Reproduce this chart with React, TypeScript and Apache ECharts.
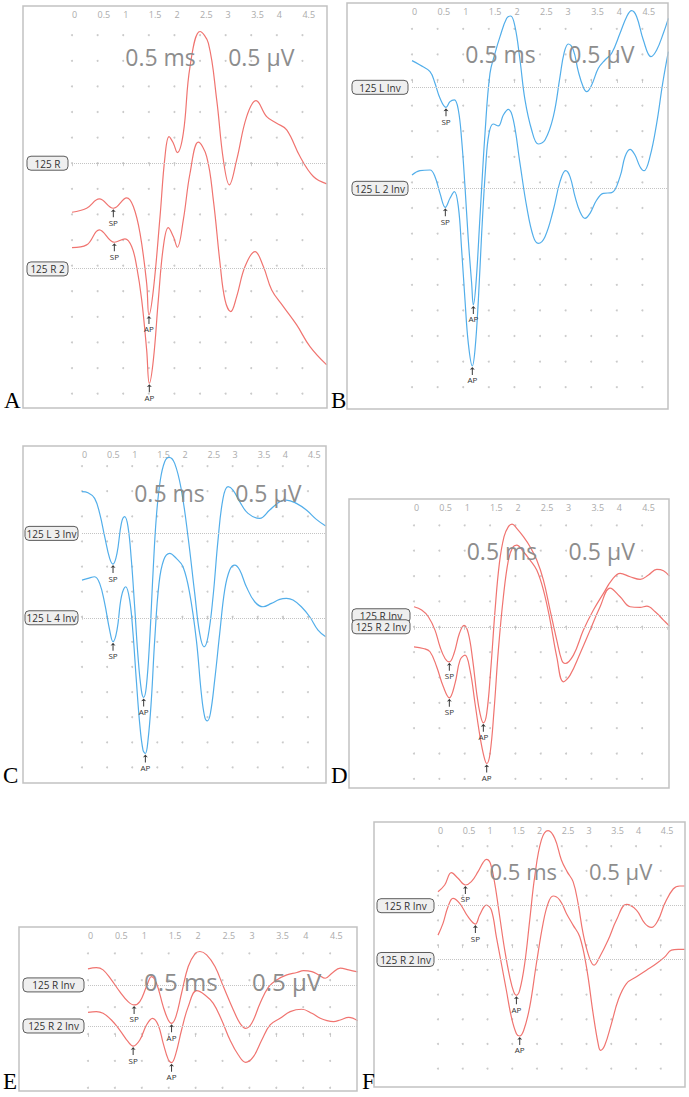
import { useEffect, useRef } from 'react';
import * as echarts from 'echarts';

type Pt = [number, number];
type Mark = [number, string];

// Time (ms) / amplitude (µV, relative to each trace's own baseline)

// A — 125 R, 125 R 2
const namesA = ['125 R', '125 R 2'];
const baselinesA = [0, -2.064];
const traceA1: Pt[] = [[0, -0.957], [0.286, -0.879], [0.534, -0.697], [0.807, -0.879], [1.068, -0.677], [1.198, -0.846], [1.328, -1.367], [1.458, -2.344], [1.503, -2.962], [1.589, -2.474], [1.719, -1.042], [1.816, 0.13], [1.895, 0.521], [1.979, 0.391], [2.057, 0.208], [2.174, 0.586], [2.305, 1.888], [2.5, 2.572], [2.663, 2.344], [2.826, 1.237], [2.956, 0.065], [3.073, -0.423], [3.216, 0.065], [3.411, 0.911], [3.594, 1.224], [3.802, 0.911], [3.997, 0.781], [4.193, 0.651], [4.453, 0.13], [4.714, -0.26], [4.974, -0.404]];
const traceA2: Pt[] = [[0, 0.417], [0.286, 0.469], [0.534, 0.762], [0.827, 0.521], [1.035, 0.586], [1.165, 0.436], [1.263, 0.046], [1.361, -0.605], [1.458, -1.582], [1.51, -2.233], [1.589, -1.777], [1.686, -0.605], [1.784, 0.436], [1.881, 0.807], [1.979, 0.631], [2.057, 0.423], [2.174, 0.957], [2.305, 1.868], [2.467, 2.474], [2.63, 2.194], [2.76, 1.348], [2.891, 0.111], [2.988, -0.605], [3.099, -0.833], [3.216, -0.54], [3.379, 0.046], [3.574, 0.339], [3.737, 0.046], [3.9, -0.41], [4.128, -0.736], [4.388, -1.094], [4.648, -1.517], [4.974, -1.875]];
const marksA1: Mark[] = [[3, 'SP'], [8, 'AP']];
const marksA2: Mark[] = [[3, 'SP'], [9, 'AP']];

// B — 125 L Inv, 125 L 2 Inv
const namesB = ['125 L Inv', '125 L 2 Inv'];
const baselinesB = [-0.143, -2.116];
const traceB1: Pt[] = [[0, 0.521], [0.156, 0.436], [0.352, 0.306], [0.449, 0.078], [0.547, -0.215], [0.664, -0.391], [0.742, -0.28], [0.827, -0.247], [0.905, -0.443], [0.97, -1.029], [1.035, -1.94], [1.1, -2.982], [1.165, -3.828], [1.198, -4.251], [1.25, -3.828], [1.328, -2.526], [1.426, -0.898], [1.523, 0.273], [1.621, 0.664], [1.719, 0.99], [1.849, 1.348], [1.927, 1.393], [2.012, 1.185], [2.109, 0.534], [2.207, -0.247], [2.337, -0.833], [2.467, -1.107], [2.598, -1.029], [2.76, -0.573], [2.891, 0.208], [2.969, 0.664], [3.053, 0.846], [3.151, 0.729], [3.249, 0.306], [3.346, 0], [3.411, -0.085], [3.509, 0.046], [3.639, 0.371], [3.77, 0.534], [3.9, 0.664], [4.063, 1.055], [4.193, 1.38], [4.29, 1.497], [4.388, 1.38], [4.518, 0.924], [4.668, 0.599], [4.779, 0.729], [4.909, 1.055], [5.007, 1.348]];
const traceB2: Pt[] = [[0, 0.26], [0.156, 0.345], [0.352, 0.358], [0.449, 0.228], [0.547, -0.098], [0.651, -0.371], [0.742, -0.195], [0.827, -0.065], [0.905, -0.358], [0.97, -1.204], [1.035, -2.181], [1.1, -3.027], [1.178, -3.47], [1.23, -3.158], [1.296, -2.181], [1.361, -0.879], [1.439, 0.423], [1.504, 1.074], [1.589, 1.257], [1.686, 1.219], [1.784, 1.432], [1.882, 1.543], [1.979, 1.335], [2.109, 0.488], [2.24, -0.358], [2.37, -0.944], [2.467, -1.074], [2.598, -0.944], [2.76, -0.423], [2.891, 0.13], [3.001, 0.345], [3.086, 0.228], [3.184, -0.163], [3.281, -0.456], [3.379, -0.586], [3.477, -0.488], [3.607, -0.228], [3.737, -0.098], [3.9, -0.085], [4.063, 0.228], [4.16, 0.618], [4.258, 0.762], [4.355, 0.651], [4.453, 0.423], [4.531, 0.345], [4.648, 0.618], [4.779, 1.27], [4.896, 2.051], [5.007, 2.669]];
const marksB1: Mark[] = [[5, 'SP'], [13, 'AP']];
const marksB2: Mark[] = [[5, 'SP'], [12, 'AP']];

// C — 125 L 3 Inv, 125 L 4 Inv
const namesC = ['125 L 3 Inv', '125 L 4 Inv'];
const baselinesC = [1.66, -0.02];
const traceC1: Pt[] = [[0, 0.83], [0.12, 0.81], [0.252, 0.697], [0.352, 0.398], [0.452, -0.066], [0.551, -0.498], [0.618, -0.611], [0.697, -0.398], [0.784, 0.199], [0.85, 0.332], [0.916, 0.133], [0.983, -0.531], [1.049, -1.461], [1.116, -2.457], [1.182, -3.121], [1.228, -3.267], [1.281, -3.054], [1.348, -2.125], [1.414, -0.797], [1.481, 0.332], [1.56, 1.062], [1.647, 1.428], [1.733, 1.514], [1.846, 1.394], [1.979, 0.863], [2.112, -0.066], [2.245, -1.195], [2.344, -1.992], [2.43, -2.258], [2.51, -2.058], [2.61, -1.262], [2.709, -0.133], [2.809, 0.697], [2.909, 0.93], [3.008, 0.863], [3.141, 0.631], [3.307, 0.398], [3.54, 0.299], [3.739, 0.465], [3.938, 0.631], [4.071, 0.664], [4.27, 0.598], [4.469, 0.465], [4.668, 0.279], [4.854, 0.146]];
const traceC2: Pt[] = [[0, 0.75], [0.12, 0.784], [0.252, 0.817], [0.352, 0.684], [0.452, 0.286], [0.551, -0.246], [0.618, -0.478], [0.697, -0.246], [0.784, 0.418], [0.87, 0.618], [0.95, 0.352], [1.016, -0.312], [1.082, -1.242], [1.149, -2.105], [1.215, -2.636], [1.262, -2.703], [1.315, -2.437], [1.381, -1.64], [1.448, -0.445], [1.534, 0.684], [1.627, 1.149], [1.746, 1.282], [1.879, 1.182], [2.012, 1.016], [2.145, 0.485], [2.278, -0.445], [2.377, -1.507], [2.444, -1.972], [2.497, -2.052], [2.557, -1.906], [2.643, -1.242], [2.743, -0.312], [2.842, 0.551], [2.942, 0.95], [3.042, 1.049], [3.141, 0.95], [3.274, 0.618], [3.44, 0.319], [3.606, 0.219], [3.772, 0.286], [3.938, 0.365], [4.071, 0.385], [4.203, 0.352], [4.369, 0.219], [4.535, 0.02], [4.701, -0.246], [4.854, -0.378]];
const marksC1: Mark[] = [[6, 'SP'], [15, 'AP']];
const marksC2: Mark[] = [[6, 'SP'], [15, 'AP']];

// D — 125 R Inv, 125 R 2 Inv
const namesD = ['125 R Inv', '125 R 2 Inv'];
const baselinesD = [0.217, 0];
const traceD1: Pt[] = [[0, 0.178], [0.151, 0.112], [0.283, -0.02], [0.414, -0.283], [0.513, -0.612], [0.612, -0.842], [0.697, -0.908], [0.789, -0.743], [0.895, -0.349], [0.987, -0.191], [1.072, -0.349], [1.158, -0.875], [1.237, -1.533], [1.303, -1.928], [1.368, -2.112], [1.434, -1.928], [1.513, -1.072], [1.599, 0.112], [1.684, 1.033], [1.776, 1.559], [1.862, 1.757], [1.934, 1.809], [2.026, 1.724], [2.158, 1.559], [2.289, 1.362], [2.421, 1.099], [2.553, 0.704], [2.684, 0.112], [2.816, -0.48], [2.914, -0.875], [2.98, -0.941], [3.145, -0.776], [3.342, -0.283], [3.539, 0.112], [3.737, 0.441], [3.901, 0.704], [4.066, 0.836], [4.263, 0.77], [4.461, 0.717], [4.625, 0.803], [4.789, 0.914], [4.921, 0.888], [5.039, 0.783]];
const traceD2: Pt[] = [[0, -0.395], [0.184, -0.428], [0.316, -0.493], [0.447, -0.789], [0.579, -1.184], [0.697, -1.401], [0.809, -1.118], [0.908, -0.658], [1.007, -0.559], [1.105, -0.855], [1.204, -1.513], [1.303, -2.171], [1.382, -2.566], [1.434, -2.697], [1.5, -2.5], [1.579, -1.645], [1.664, -0.461], [1.763, 0.592], [1.862, 1.316], [1.947, 1.566], [2.026, 1.612], [2.158, 1.48], [2.289, 1.316], [2.421, 1.118], [2.553, 0.724], [2.684, 0.132], [2.816, -0.592], [2.947, -1.086], [3.079, -0.954], [3.276, -0.526], [3.474, -0.066], [3.671, 0.395], [3.868, 0.763], [4.066, 0.592], [4.263, 0.395], [4.461, 0.382], [4.592, 0.408], [4.757, 0.296], [4.921, 0.132], [5.039, 0.013]];
const marksD1: Mark[] = [[6, 'SP'], [14, 'AP']];
const marksD2: Mark[] = [[5, 'SP'], [13, 'AP']];

// E — 125 R Inv, 125 R 2 Inv
const namesE = ['125 R Inv', '125 R 2 Inv'];
const baselinesE = [0.913, 0.149];
const traceE1: Pt[] = [[0, 0.298], [0.155, 0.323], [0.28, 0.28], [0.435, 0.093], [0.59, -0.124], [0.745, -0.311], [0.857, -0.373], [0.963, -0.311], [1.087, -0.031], [1.18, 0.155], [1.273, 0.031], [1.398, -0.404], [1.491, -0.652], [1.553, -0.714], [1.634, -0.59], [1.739, -0.155], [1.863, 0.342], [1.988, 0.578], [2.081, 0.621], [2.205, 0.559], [2.36, 0.342], [2.516, -0.031], [2.702, -0.466], [2.826, -0.714], [2.932, -0.807], [3.043, -0.714], [3.199, -0.342], [3.354, -0.043], [3.509, 0.093], [3.696, 0.186], [3.882, 0.23], [4.006, 0.267], [4.161, 0.248], [4.286, 0.186], [4.41, 0.124], [4.534, 0.217], [4.689, 0.311], [4.845, 0.28], [5.013, 0.242]];
const traceE2: Pt[] = [[0, 0.255], [0.155, 0.267], [0.28, 0.236], [0.435, 0.112], [0.59, -0.075], [0.745, -0.292], [0.839, -0.373], [0.963, -0.261], [1.087, 0.019], [1.199, 0.143], [1.304, 0.019], [1.398, -0.323], [1.491, -0.621], [1.553, -0.683], [1.634, -0.509], [1.739, -0.075], [1.863, 0.36], [2.019, 0.658], [2.174, 0.578], [2.329, 0.422], [2.484, 0.112], [2.64, -0.261], [2.795, -0.54], [2.932, -0.677], [3.075, -0.571], [3.23, -0.261], [3.385, 0.019], [3.571, 0.143], [3.758, 0.267], [3.975, 0.311], [4.161, 0.236], [4.317, 0.143], [4.441, 0.099], [4.565, 0.081], [4.689, 0.112], [4.845, 0.161], [5.013, 0.099]];
const marksE1: Mark[] = [[6, 'SP'], [13, 'AP']];
const marksE2: Mark[] = [[6, 'SP'], [13, 'AP']];

// F — 125 R Inv, 125 R 2 Inv
const namesF = ['125 R Inv', '125 R 2 Inv'];
const baselinesF = [0.797, -0.291];
const traceF1: Pt[] = [[0, 0.284], [0.135, 0.419], [0.27, 0.669], [0.404, 0.554], [0.553, 0.419], [0.674, 0.486], [0.809, 0.689], [0.91, 0.872], [0.977, 0.939], [1.058, 0.858], [1.146, 0.453], [1.247, -0.223], [1.348, -0.899], [1.449, -1.439], [1.53, -1.743], [1.584, -1.811], [1.651, -1.709], [1.752, -1.169], [1.853, -0.291], [1.954, 0.588], [2.089, 1.331], [2.224, 1.52], [2.358, 1.365], [2.493, 0.926], [2.608, 0.689], [2.729, 0.486], [2.83, 0.047], [2.931, -0.561], [3.052, -1.034], [3.154, -1.203], [3.268, -1.034], [3.437, -0.696], [3.605, -0.291], [3.807, 0.027], [4.009, -0.088], [4.178, -0.358], [4.313, -0.439], [4.447, -0.291], [4.582, 0.047], [4.751, 0.338], [4.886, 0.399], [4.987, 0.399]];
const traceF2: Pt[] = [[0, 0.493], [0.101, 0.73], [0.202, 1.068], [0.303, 1.236], [0.438, 1.135], [0.606, 0.865], [0.755, 0.716], [0.842, 0.899], [0.977, 1.101], [1.078, 1.0], [1.179, 0.459], [1.28, -0.081], [1.381, -0.622], [1.482, -1.162], [1.584, -1.5], [1.651, -1.547], [1.732, -1.432], [1.853, -0.959], [1.988, -0.081], [2.123, 0.73], [2.224, 1.135], [2.325, 1.284], [2.46, 1.203], [2.594, 0.932], [2.729, 0.696], [2.864, 0.459], [2.999, -0.149], [3.134, -1.095], [3.235, -1.703], [3.282, -1.838], [3.369, -1.736], [3.504, -1.297], [3.639, -0.824], [3.807, -0.486], [4.009, -0.351], [4.211, -0.216], [4.414, -0.081], [4.582, 0.054], [4.717, 0.189], [4.852, 0.203], [4.987, 0.203]];
const marksF1: Mark[] = [[4, 'SP'], [15, 'AP']];
const marksF2: Mark[] = [[6, 'SP'], [15, 'AP']];

// Top axis ticks (ms) and the scale captions
const tickValues = [0, 0.5, 1, 1.5, 2, 2.5, 3, 3.5, 4, 4.5];
const tickLabels = ['0', '0.5', '1', '1.5', '2', '2.5', '3', '3.5', '4', '4.5'];
const scaleCaptions = ['0.5 ms', '0.5 µV'];
const captionTimes = [1.04, 3.05];

const RED = '#f07470';
const BLUE = '#52aeea';
const SANS = "'Open Sans', 'Noto Sans', sans-serif";

interface Panel {
  letter: string;
  frame: [number, number, number, number];
  x0: number;
  xMax: number;
  yMin: number;
  yMax: number;
  rows: [number, number];
  color: string;
  names: string[];
  baselines: number[];
  traces: Pt[][];
  marks: Mark[][];
  boxW: number;
  captionDy: number;
  letterPos: [number, number];
}

const panels: Panel[] = [
  { letter: 'A', frame: [23, 6, 327, 408], x0: 72, xMax: 4.98, yMin: -4.78, yMax: 3.07, rows: [-4.5, 2.5], color: RED, names: namesA, baselines: baselinesA, traces: [traceA1, traceA2], marks: [marksA1, marksA2], boxW: 41, captionDy: 51, letterPos: [4, 412] },
  { letter: 'B', frame: [347, 3, 668, 409], x0: 412, xMax: 5.0, yMin: -6.426, yMax: 1.504, rows: [-6, 1], color: BLUE, names: namesB, baselines: baselinesB, traces: [traceB1, traceB2], marks: [marksB1, marksB2], boxW: 56, captionDy: 51, letterPos: [331, 412] },
  { letter: 'C', frame: [23, 446, 326, 783], x0: 82, xMax: 4.86, yMin: -3.31, yMax: 3.4, rows: [-3, 3], color: BLUE, names: namesC, baselines: baselinesC, traces: [traceC1, traceC2], marks: [marksC1, marksC2], boxW: 53, captionDy: 47, letterPos: [3, 787] },
  { letter: 'D', frame: [349, 499, 669, 788], x0: 414, xMax: 5.03, yMin: -3.18, yMax: 2.52, rows: [-3, 2], color: RED, names: namesD, baselines: baselinesD, traces: [traceD1, traceD2], marks: [marksD1, marksD2], boxW: 58, captionDy: 52, letterPos: [331, 787] },
  { letter: 'E', frame: [19, 927, 357, 1091], x0: 88, xMax: 5.0, yMin: -1.06, yMax: 1.99, rows: [-1, 1.5], color: RED, names: namesE, baselines: baselinesE, traces: [traceE1, traceE2], marks: [marksE1, marksE2], boxW: 61, captionDy: 54, letterPos: [3, 1093] },
  { letter: 'F', frame: [374, 822, 685, 1087], x0: 438, xMax: 4.99, yMin: -2.87, yMax: 2.49, rows: [-2.5, 2], color: RED, names: namesF, baselines: baselinesF, traces: [traceF1, traceF2], marks: [marksF1, marksF2], boxW: 57, captionDy: 49, letterPos: [362, 1093] },
];

const ARROW = 'path://M5,0 L9,5 L5.8,4 L5.8,14 L4.2,14 L4.2,4 L1,5 Z';

function buildOption() {
  const grid: any[] = [];
  const xAxis: any[] = [];
  const yAxis: any[] = [];
  const series: any[] = [];

  panels.forEach((p, i) => {
    const [, top, right, bottom] = p.frame;
    grid.push({ left: p.x0, top, width: right - p.x0, height: bottom - top });
    xAxis.push({
      type: 'value',
      gridIndex: i,
      position: 'top',
      min: 0,
      max: p.xMax,
      interval: 0.5,
      axisLine: { show: false },
      splitLine: { show: false },
      axisTick: { show: true, inside: true, length: 3, lineStyle: { color: '#cfcfcf', width: 1 } },
      axisLabel: {
        inside: true,
        margin: 4,
        fontSize: 9,
        fontFamily: SANS,
        color: '#ababab',
        align: 'left',
        verticalAlign: 'top',
        showMaxLabel: false,
        formatter: (v: number) => {
          const k = tickValues.findIndex((t) => Math.abs(t - v) < 1e-6);
          return k >= 0 ? tickLabels[k] : '';
        },
      },
    });
    yAxis.push({ type: 'value', gridIndex: i, min: p.yMin, max: p.yMax, show: false });

    // dotted reference grid
    const dots: Pt[] = [];
    for (const t of tickValues) {
      for (let r = p.rows[0]; r <= p.rows[1] + 1e-9; r += 0.5) dots.push([t, r]);
    }
    series.push({
      type: 'scatter',
      xAxisIndex: i,
      yAxisIndex: i,
      data: dots,
      symbolSize: 2,
      itemStyle: { color: '#bdbdbd' },
      silent: true,
      z: 1,
    });

    p.traces.forEach((tr, j) => {
      const base = p.baselines[j];
      const data = tr.map(([t, v]) => [t, v + base]);
      series.push({
        type: 'line',
        name: p.names[j],
        xAxisIndex: i,
        yAxisIndex: i,
        data,
        smooth: 0.4,
        showSymbol: false,
        symbol: 'none',
        lineStyle: { color: p.color, width: 1.2 },
        z: 3,
        markLine: {
          silent: true,
          symbol: ['none', 'none'],
          label: { show: false },
          lineStyle: { type: 'dotted', color: '#c4c4c4', width: 1 },
          data: [{ yAxis: base }],
        },
        markPoint: {
          silent: true,
          symbol: ARROW,
          symbolSize: [5, 8],
          symbolOffset: [0, 5],
          itemStyle: { color: '#3a3a3a' },
          label: {
            show: true,
            position: 'bottom',
            distance: 1,
            fontSize: 8,
            fontFamily: SANS,
            color: '#333',
            formatter: (d: any) => d.name,
          },
          data: p.marks[j].map(([idx, name]) => ({ name, coord: data[idx] })),
        },
      });
    });
  });

  return {
    animation: false,
    backgroundColor: '#ffffff',
    grid,
    xAxis,
    yAxis,
    series,
  };
}

export default function App() {
  const ref = useRef<HTMLDivElement>(null);

  useEffect(() => {
    if (!ref.current) return;
    const chart = echarts.init(ref.current, undefined, { renderer: 'svg' });
    chart.setOption(buildOption());

    const elements: any[] = [];
    panels.forEach((p, i) => {
      const [left, top, right, bottom] = p.frame;
      const sx = (right - p.x0) / p.xMax;
      elements.push({
        type: 'rect',
        silent: true,
        shape: { x: left, y: top, width: right - left, height: bottom - top },
        style: { fill: 'none', stroke: '#c2c2c2', lineWidth: 1.5 },
        z: 10,
      });
      elements.push({
        type: 'text',
        silent: true,
        x: p.letterPos[0],
        y: p.letterPos[1],
        style: {
          text: p.letter,
          fill: '#000',
          font: "23px 'Liberation Serif', 'Times New Roman', serif",
          align: 'left',
          verticalAlign: 'bottom',
        },
        z: 10,
      });
      const capSize = Math.round((23 * sx) / 51.2);
      scaleCaptions.forEach((txt, k) => {
        const px = chart.convertToPixel({ gridIndex: i } as any, [captionTimes[k], 0]) as number[];
        elements.push({
          type: 'text',
          silent: true,
          x: px[0],
          y: top + p.captionDy,
          style: {
            text: txt,
            fill: '#8d8d8d',
            font: `${capSize}px ${SANS}`,
            align: 'left',
            verticalAlign: 'middle',
          },
          z: 10,
        });
      });
      p.baselines.forEach((b, j) => {
        const py = (chart.convertToPixel({ gridIndex: i } as any, [0, b]) as number[])[1];
        const bx = p.x0 - 4 - p.boxW;
        elements.push({
          type: 'rect',
          silent: true,
          shape: { x: bx, y: py - 7, width: p.boxW, height: 14, r: 4 },
          style: { fill: '#efefef', stroke: '#5c5c5c', lineWidth: 1 },
          z: 11 + j * 2,
        });
        elements.push({
          type: 'text',
          silent: true,
          x: bx + p.boxW / 2,
          y: py + 0.5,
          style: {
            text: p.names[j],
            fill: '#333',
            font: `10px ${SANS}`,
            align: 'center',
            verticalAlign: 'middle',
          },
          z: 12 + j * 2,
        });
      });
    });
    chart.setOption({ graphic: { elements } });

    return () => chart.dispose();
  }, []);

  return (
    <div
      ref={ref}
      style={{ position: 'absolute', left: 0, top: 0, width: 689, height: 1097, background: '#fff' }}
    />
  );
}
